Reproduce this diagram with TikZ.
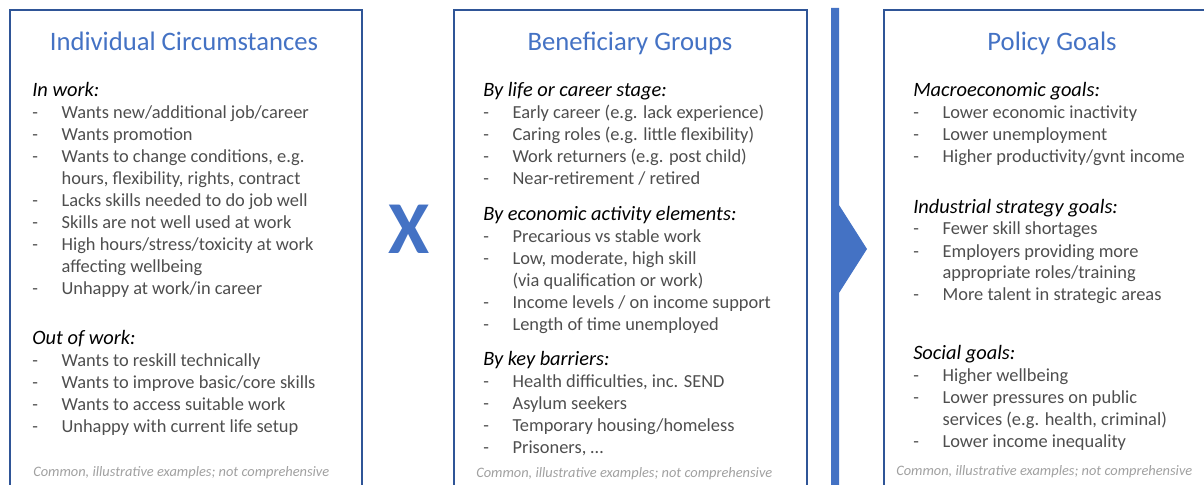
\documentclass[tikz,border=0pt]{standalone}
\usepackage{fontspec}
\setmainfont{Carlito}
\usetikzlibrary{positioning}

\definecolor{titleblue}{RGB}{68,114,196}
\definecolor{frameblue}{RGB}{47,85,151}
\definecolor{bodygrey}{RGB}{78,78,78}
\definecolor{notegrey}{RGB}{160,160,160}

\newenvironment{grouplist}{\begin{tabular}[t]{@{}p{22pt}@{}l@{}}}{\end{tabular}}
\newcommand{\grouphead}[1]{\multicolumn{2}{@{}l@{}}{\color{black}\fontsize{15.3}{16.5}\selectfont\itshape #1}}

\begin{document}
\begin{tikzpicture}[
    x=0.75pt, y=-0.75pt,
    panel/.style={rectangle, draw=frameblue, line width=1.5pt, anchor=north west,
                  minimum height=380pt, inner sep=0pt},
    heading/.style={anchor=base, inner sep=0pt, text=titleblue,
                    font=\fontsize{20}{24}\selectfont},
    group/.style={anchor=base west, inner sep=0pt, text=bodygrey,
                  font=\fontsize{13.8}{16.5}\selectfont},
    note/.style={anchor=base west, inner sep=0pt, text=notegrey,
                 font=\fontsize{10.8}{12}\selectfont\itshape},
    link/.style={fill=titleblue, draw=none}
]
\useasboundingbox (0,0) rectangle (1204,485);
\clip (0,0) rectangle (1204,485);

% Panels
\node[panel, minimum width=264pt] (indiv) at (9,9) {};
\node[panel, minimum width=264.75pt] (benef) at (453,9) {};
\node[panel, minimum width=260pt] (policy) at (883,9) {};

% Individual circumstances
\node[heading] (indivtitle) at (184,51) {Individual Circumstances};
\node[group] (inwork) at (32,97) {\begin{grouplist}
\grouphead{In work:}\\
- & Wants new/additional job/career\\
- & Wants promotion\\
- & Wants to change conditions, e.g.\\
  & hours, flexibility, rights, contract\\
- & Lacks skills needed to do job well\\
- & Skills are not well used at work\\
- & High hours/stress/toxicity at work\\
  & affecting wellbeing\\
- & Unhappy at work/in career
\end{grouplist}};
\node[group] (outwork) at (32,344) {\begin{grouplist}
\grouphead{Out of work:}\\
- & Wants to reskill technically\\
- & Wants to improve basic/core skills\\
- & Wants to access suitable work\\
- & Unhappy with current life setup
\end{grouplist}};
\node[note] (indivnote) at (33,476) {Common, illustrative examples; not comprehensive};

% Times sign
\node[text=titleblue, font=\fontsize{56}{56}\selectfont\bfseries] (times) at (409,229) {X};

% Beneficiary groups
\node[heading] (beneftitle) at (630,51) {Beneficiary Groups};
\node[group] (stage) at (483,97) {\begin{grouplist}
\grouphead{By life or career stage:}\\
- & Early career (e.g. lack experience)\\
- & Caring roles (e.g. little flexibility)\\
- & Work returners (e.g. post child)\\
- & Near-retirement / retired
\end{grouplist}};
\node[group] (activity) at (483,220) {\begin{grouplist}
\grouphead{By economic activity elements:}\\
- & Precarious vs stable work\\
- & Low, moderate, high skill\\
  & (via qualification or work)\\
- & Income levels / on income support\\
- & Length of time unemployed
\end{grouplist}};
\node[group] (barriers) at (483,365) {\begin{grouplist}
\grouphead{By key barriers:}\\
- & Health difficulties, inc. SEND\\
- & Asylum seekers\\
- & Temporary housing/homeless\\
- & Prisoners, \dots
\end{grouplist}};
\node[note] (benefnote) at (476,477) {Common, illustrative examples; not comprehensive};

% Bar with arrow head
\path[link] (831,8) -- (839,8) -- (839,205) -- (867,249) -- (839,293)
    -- (839,490) -- (831,490) -- cycle;

% Policy goals
\node[heading] (policytitle) at (1052,51) {Policy Goals};
\node[group] (macro) at (913,97) {\begin{grouplist}
\grouphead{Macroeconomic goals:}\\
- & Lower economic inactivity\\
- & Lower unemployment\\
- & Higher productivity/gvnt income
\end{grouplist}};
\node[group] (industry) at (913,213) {\begin{grouplist}
\grouphead{Industrial strategy goals:}\\
- & Fewer skill shortages\\
- & Employers providing more\\
  & appropriate roles/training\\
- & More talent in strategic areas
\end{grouplist}};
\node[group] (social) at (913,359) {\begin{grouplist}
\grouphead{Social goals:}\\
- & Higher wellbeing\\
- & Lower pressures on public\\
  & services (e.g. health, criminal)\\
- & Lower income inequality
\end{grouplist}};
\node[note] (policynote) at (896,475) {Common, illustrative examples; not comprehensive};

\end{tikzpicture}
\end{document}
